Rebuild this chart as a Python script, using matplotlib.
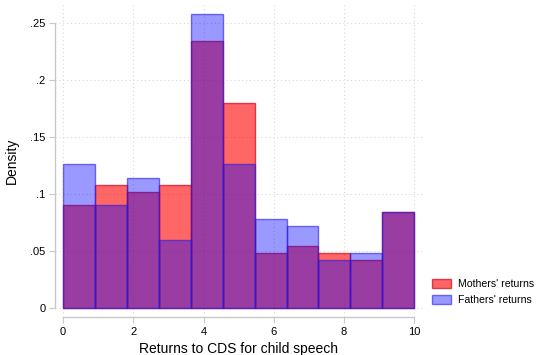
import numpy as np
import matplotlib
matplotlib.use('Agg')
import matplotlib.pyplot as plt
from matplotlib.patches import Patch

# Histogram densities, 11 equal bins over 0-10
bin_edges = np.linspace(0, 10, 12)
mothers = [0.090, 0.108, 0.102, 0.108, 0.234, 0.180, 0.048, 0.054, 0.048, 0.042, 0.084]
fathers = [0.126, 0.090, 0.114, 0.060, 0.258, 0.126, 0.078, 0.072, 0.042, 0.048, 0.084]
xticks = [0, 2, 4, 6, 8, 10]
yticks = [0, 0.05, 0.1, 0.15, 0.2, 0.25]
ytick_labels = ['0', '.05', '.1', '.15', '.2', '.25']

plt.rcParams['font.family'] = ['Liberation Sans', 'DejaVu Sans']

fig = plt.figure(figsize=(5.37, 3.55), dpi=100)
ax = fig.add_axes([0.1024, 0.107, 0.684, 0.879])

widths = np.diff(bin_edges)
ax.bar(bin_edges[:-1], mothers, widths, align='edge',
       facecolor=(1, 0, 0, 0.6), edgecolor=(0.85, 0, 0.1, 0.7), linewidth=1.0,
       label="Mothers' returns", zorder=2)
ax.bar(bin_edges[:-1], fathers, widths, align='edge',
       facecolor=(0, 0, 1, 0.4), edgecolor=(0.15, 0.1, 0.9, 0.6), linewidth=1.0,
       label="Fathers' returns", zorder=3)

ax.set_xlim(-0.228, 10.228)
ax.set_ylim(-0.0079, 0.2658)
ax.set_xticks(xticks)
ax.set_yticks(yticks)
ax.set_yticklabels(ytick_labels)
ax.grid(True, linestyle=(0, (1, 2.5)), color='#d8d8d8', linewidth=0.8, zorder=0)
ax.set_axisbelow(True)

for s in ['top', 'right']:
    ax.spines[s].set_visible(False)
ax.spines['left'].set_bounds(0, 0.25)
ax.spines['bottom'].set_bounds(0, 10)
for s in ['left', 'bottom']:
    ax.spines[s].set_color('#c8c8c8')
    ax.spines[s].set_linewidth(1.0)
ax.tick_params(axis='both', direction='out', length=4, width=0.8,
               color='#c8c8c8', labelsize=8, pad=3)

ax.set_xlabel('Returns to CDS for child speech', fontsize=10, labelpad=4)
ax.set_ylabel('Density', fontsize=10, labelpad=8)

handles = [Patch(facecolor=(1, 0, 0, 0.6), edgecolor=(0.85, 0, 0.1, 0.7)),
           Patch(facecolor=(0, 0, 1, 0.4), edgecolor=(0.15, 0.1, 0.9, 0.6))]
fig.legend(handles, ["Mothers' returns", "Fathers' returns"],
           loc='center left', bbox_to_anchor=(0.805, 0.177), frameon=False,
           borderpad=0, borderaxespad=0,
           fontsize=7.6, handlelength=1.8, handleheight=0.9, handletextpad=0.6,
           labelspacing=0.6)

fig.savefig('out.png', dpi=100)
